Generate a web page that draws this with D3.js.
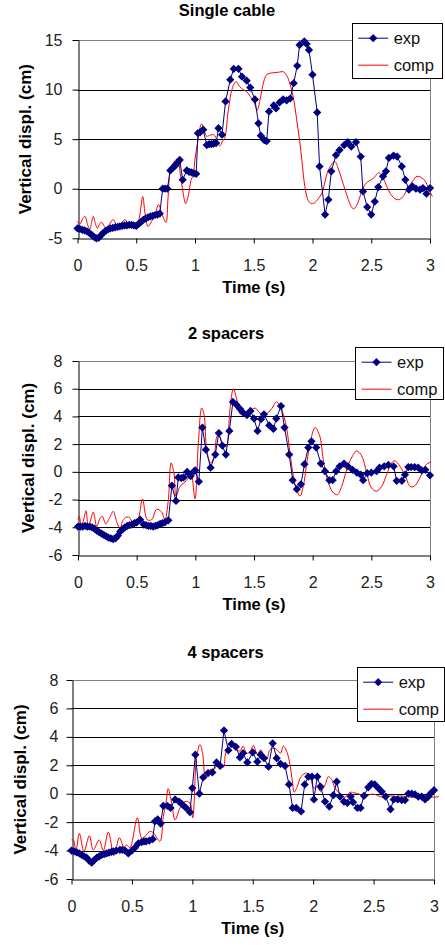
<!DOCTYPE html>
<html><head><meta charset="utf-8">
<script src="https://cdn.jsdelivr.net/npm/d3@7"></script>
<style>body{margin:0;background:#fff}svg{display:block}text{font-family:"Liberation Sans",Arial,sans-serif}</style>
</head><body><svg id="c" width="445" height="945"></svg>
<script>
const xTicks=[0,0.5,1,1.5,2,2.5,3];
const singleTicks=[-5,0,5,10,15];
const spacerTicks=[-6,-4,-2,0,2,4,6,8];
const titles=["Single cable","2 spacers","4 spacers"];
const legendLabels=["exp","comp"];
const xTitle="Time (s)";
const yTitle="Vertical displ. (cm)";

const singleExp=[[0,-4.0],[0.02,-4.05],[0.04,-4.15],[0.06,-4.2],[0.08,-4.3],[0.1,-4.45],[0.12,-4.65],[0.14,-4.85],[0.16,-5.0],[0.18,-4.95],[0.2,-4.7],[0.22,-4.45],[0.24,-4.25],[0.26,-4.1],[0.28,-4.0],[0.3,-3.95],[0.32,-3.9],[0.34,-3.85],[0.36,-3.8],[0.38,-3.75],[0.4,-3.7],[0.42,-3.7],[0.44,-3.65],[0.46,-3.65],[0.48,-3.7],[0.5,-3.75],[0.52,-3.55],[0.54,-3.35],[0.56,-3.15],[0.58,-3.0],[0.6,-2.9],[0.62,-2.8],[0.64,-2.75],[0.66,-2.65],[0.68,-2.6],[0.7,-2.5],[0.725,0],[0.745,0],[0.765,0],[0.79,1.85],[0.81,2.1],[0.83,2.3],[0.85,2.6],[0.87,2.9],[0.895,0.9],[0.93,1.85],[0.95,1.7],[0.97,1.65],[0.99,1.55],[1.01,1.5],[1.025,5.6],[1.045,5.7],[1.07,5.95],[1.1,4.4],[1.12,4.5],[1.14,4.5],[1.16,4.55],[1.18,4.6],[1.2,6.1],[1.23,5.45],[1.26,8.8],[1.3,11.0],[1.33,12.1],[1.37,12.1],[1.4,11.3],[1.44,10.9],[1.47,10.2],[1.51,9.0],[1.54,6.6],[1.56,5.35],[1.59,4.9],[1.61,4.8],[1.63,7.8],[1.67,8.4],[1.69,8.1],[1.72,8.7],[1.75,9.0],[1.78,8.9],[1.81,9.1],[1.84,10.65],[1.87,12.4],[1.89,14.5],[1.93,14.85],[1.95,14.6],[1.97,14.0],[2.0,11.5],[2.04,7.7],[2.06,2.25],[2.107,-2.6],[2.135,-1.1],[2.16,1.75],[2.2,3.4],[2.23,3.9],[2.27,4.4],[2.3,4.7],[2.33,4.25],[2.37,4.7],[2.41,3.25],[2.43,-0.27],[2.466,-1.85],[2.5,-2.6],[2.53,-1.3],[2.56,0.17],[2.6,1.25],[2.625,1.75],[2.65,3.1],[2.69,3.35],[2.72,3.25],[2.76,2.25],[2.79,0.9],[2.82,-0.1],[2.85,0.24],[2.88,0.0],[2.915,-0.1],[2.94,0.07],[2.97,-0.5],[3.0,0.07]];
const singleComp=[[0,-3.3],[0.02,-3.6],[0.045,-3.0],[0.065,-2.8],[0.085,-3.6],[0.105,-4.1],[0.12,-3.4],[0.135,-2.8],[0.152,-3.5],[0.17,-4.0],[0.19,-3.5],[0.206,-3.4],[0.228,-3.8],[0.248,-4.1],[0.275,-3.5],[0.305,-3.1],[0.327,-3.6],[0.348,-4.0],[0.375,-3.5],[0.404,-3.1],[0.425,-3.5],[0.447,-3.8],[0.475,-3.7],[0.5,-3.8],[0.525,-3.0],[0.555,-0.8],[0.575,-2.5],[0.6,-3.8],[0.63,-3.3],[0.66,-2.6],[0.69,-1.6],[0.72,-2.6],[0.753,-3.4],[0.77,-1.0],[0.79,1.9],[0.82,2.7],[0.85,3.0],[0.875,1.5],[0.9,-0.5],[0.92,-1.5],[0.945,-0.6],[0.965,0.8],[0.985,1.4],[1.0,3.0],[1.02,4.5],[1.04,6.0],[1.056,6.55],[1.08,5.8],[1.1,5.3],[1.13,5.4],[1.16,5.45],[1.19,4.8],[1.21,4.3],[1.235,4.8],[1.255,5.2],[1.28,7.6],[1.31,9.8],[1.33,10.5],[1.35,10.8],[1.38,10.3],[1.41,10.0],[1.44,9.8],[1.47,9.3],[1.5,8.8],[1.53,7.9],[1.55,8.8],[1.57,10.0],[1.59,11.0],[1.61,11.5],[1.64,11.65],[1.67,11.7],[1.71,11.75],[1.75,11.8],[1.77,11.6],[1.79,11.2],[1.815,10.3],[1.84,9.0],[1.865,7.0],[1.89,4.9],[1.91,2.8],[1.935,0.2],[1.96,-1.1],[1.98,-1.45],[2.0,-1.5],[2.02,-1.4],[2.05,-1.0],[2.08,-0.45],[2.1,0.4],[2.126,1.6],[2.16,2.4],[2.19,2.75],[2.22,2.0],[2.25,0.9],[2.28,-0.2],[2.305,-1.1],[2.33,-1.8],[2.35,-2.05],[2.375,-1.7],[2.4,-0.95],[2.42,-0.2],[2.445,0.4],[2.47,0.7],[2.5,0.9],[2.53,1.2],[2.56,1.6],[2.58,1.5],[2.6,1.1],[2.63,0.3],[2.66,-0.45],[2.69,-0.9],[2.72,-1.1],[2.745,-1.05],[2.77,-0.8],[2.8,-0.2],[2.83,0.4],[2.86,0.9],[2.88,1.2],[2.9,1.25],[2.93,1.1],[2.96,0.75],[2.99,0.0],[3.02,-0.8]];

const twoExp=[[0,-3.95],[0.02,-3.95],[0.04,-3.95],[0.06,-3.9],[0.08,-3.95],[0.1,-3.95],[0.12,-4.0],[0.14,-4.1],[0.16,-4.25],[0.18,-4.35],[0.2,-4.45],[0.22,-4.55],[0.24,-4.65],[0.26,-4.75],[0.28,-4.8],[0.3,-4.85],[0.32,-4.8],[0.34,-4.6],[0.36,-4.3],[0.38,-4.15],[0.4,-4.0],[0.42,-3.9],[0.44,-3.85],[0.46,-3.8],[0.48,-3.7],[0.5,-3.65],[0.53,-3.45],[0.56,-3.8],[0.58,-3.85],[0.6,-3.9],[0.62,-3.9],[0.64,-3.95],[0.66,-3.9],[0.68,-3.85],[0.7,-3.75],[0.72,-3.7],[0.74,-3.65],[0.77,-3.5],[0.8,-1.0],[0.835,-2.1],[0.855,-0.4],[0.88,-0.45],[0.9,-0.4],[0.93,0.0],[0.96,-0.3],[0.99,0.05],[1.0,0.1],[1.03,-0.7],[1.06,3.2],[1.09,1.6],[1.13,0.3],[1.17,1.25],[1.2,2.8],[1.23,1.9],[1.26,1.25],[1.29,2.95],[1.32,5.05],[1.35,4.85],[1.38,4.55],[1.41,4.25],[1.44,4.1],[1.47,4.4],[1.5,3.85],[1.53,2.95],[1.56,3.8],[1.585,4.15],[1.63,3.35],[1.665,3.1],[1.69,3.85],[1.73,4.75],[1.76,3.2],[1.8,1.25],[1.83,-0.6],[1.865,-1.25],[1.9,-0.9],[1.93,0.55],[1.963,1.75],[1.99,2.2],[2.03,1.75],[2.07,0.6],[2.105,0.05],[2.142,-0.6],[2.17,-0.6],[2.2,0.05],[2.23,0.4],[2.267,0.6],[2.3,0.4],[2.34,0.15],[2.376,-0.05],[2.41,-0.2],[2.43,-0.6],[2.465,-0.1],[2.5,-0.05],[2.545,0.05],[2.57,0.3],[2.61,0.4],[2.645,0.5],[2.69,0.4],[2.716,-0.65],[2.76,-0.65],[2.787,-0.2],[2.815,0.35],[2.84,0.35],[2.87,0.35],[2.9,0.3],[2.93,0.1],[2.96,0.15],[3.0,-0.25]];
const twoComp=[[0,-3.45],[0.011,-3.2],[0.03,-3.95],[0.05,-3.4],[0.068,-2.8],[0.088,-3.95],[0.11,-3.4],[0.13,-2.9],[0.16,-3.95],[0.185,-3.4],[0.207,-3.2],[0.236,-3.75],[0.27,-3.3],[0.3,-2.85],[0.33,-3.6],[0.358,-4.1],[0.386,-3.45],[0.43,-3.25],[0.486,-3.9],[0.52,-3.2],[0.55,-1.95],[0.59,-3.45],[0.628,-3.45],[0.67,-2.7],[0.713,-2.9],[0.741,-3.45],[0.77,-2.0],[0.793,0.65],[0.818,-0.1],[0.835,-1.75],[0.87,-1.05],[0.903,-0.8],[0.94,-0.45],[0.963,0.05],[0.997,-1.95],[1.026,2.1],[1.054,4.6],[1.074,4.15],[1.097,1.6],[1.13,0.65],[1.16,1.1],[1.187,2.6],[1.21,2.5],[1.24,1.85],[1.267,1.85],[1.28,2.6],[1.295,4.5],[1.324,6.0],[1.352,5.25],[1.38,4.2],[1.42,4.3],[1.466,4.4],[1.51,4.6],[1.55,4.25],[1.59,4.15],[1.636,4.4],[1.665,4.75],[1.69,5.05],[1.72,4.8],[1.75,4.15],[1.78,3.05],[1.807,1.35],[1.835,-0.3],[1.864,-1.3],[1.892,-1.75],[1.92,-1.05],[1.95,0.65],[1.985,2.35],[2.02,3.2],[2.06,2.6],[2.09,0.9],[2.125,-0.55],[2.17,-1.45],[2.21,-1.65],[2.247,-1.05],[2.29,0.15],[2.33,1.0],[2.375,1.5],[2.418,1.15],[2.46,-0.05],[2.5,-1.15],[2.545,-1.4],[2.588,-1.05],[2.63,-0.2],[2.673,0.65],[2.7,0.8],[2.744,0.4],[2.79,-0.3],[2.83,-1.05],[2.864,-1.05],[2.9,-0.65],[2.94,0.05],[2.97,0.55],[3.01,0.7]];

const fourExp=[[0,-4.0],[0.02,-4.05],[0.043,-4.13],[0.065,-4.2],[0.084,-4.3],[0.105,-4.4],[0.125,-4.5],[0.145,-4.7],[0.167,-4.85],[0.19,-4.65],[0.21,-4.5],[0.23,-4.4],[0.25,-4.3],[0.27,-4.25],[0.29,-4.2],[0.31,-4.15],[0.33,-4.1],[0.346,-4.05],[0.37,-4.0],[0.4,-3.95],[0.42,-3.95],[0.443,-4.0],[0.47,-4.2],[0.5,-4.0],[0.525,-3.8],[0.553,-3.5],[0.58,-3.4],[0.6,-3.35],[0.617,-3.35],[0.644,-3.3],[0.672,-3.2],[0.69,-1.95],[0.713,-1.8],[0.737,-2.1],[0.76,-0.85],[0.793,-0.85],[0.82,-1.0],[0.857,-0.4],[0.89,-0.55],[0.917,-0.75],[0.948,-1.0],[0.98,-1.3],[1.0,0.4],[1.025,2.75],[1.058,0.0],[1.09,1.15],[1.13,1.45],[1.166,1.5],[1.2,2.2],[1.23,1.95],[1.262,4.45],[1.298,3.05],[1.325,3.5],[1.36,3.3],[1.394,2.55],[1.42,2.85],[1.455,2.2],[1.5,2.9],[1.538,2.25],[1.565,2.75],[1.593,2.5],[1.63,1.9],[1.665,3.55],[1.698,2.5],[1.73,2.1],[1.767,1.95],[1.8,0.65],[1.83,-1.0],[1.86,-1.0],[1.9,-1.25],[1.93,0.65],[1.96,1.2],[1.99,1.2],[2.006,-0.4],[2.034,1.2],[2.06,0.5],[2.098,-0.55],[2.134,-0.9],[2.167,-0.1],[2.195,0.85],[2.222,-0.2],[2.255,-0.55],[2.283,-0.65],[2.31,-0.2],[2.33,-0.6],[2.366,-1.0],[2.392,-1.0],[2.42,-0.15],[2.456,0.45],[2.483,0.7],[2.51,0.65],[2.539,0.4],[2.567,0.15],[2.6,-0.2],[2.64,-1.1],[2.667,-0.4],[2.7,-0.4],[2.733,-0.45],[2.76,-0.45],[2.788,0.0],[2.816,0.0],[2.843,-0.05],[2.87,-0.2],[2.898,-0.2],[2.926,-0.4],[2.953,-0.2],[2.97,0.0],[3.0,0.25]];
const fourComp=[[0,-3.25],[0.015,-3.25],[0.037,-4.0],[0.065,-2.8],[0.103,-4.05],[0.148,-2.95],[0.18,-3.95],[0.23,-3.25],[0.263,-4.0],[0.305,-2.7],[0.352,-4.35],[0.396,-3.1],[0.434,-3.75],[0.457,-3.6],[0.484,-3.8],[0.545,-1.7],[0.58,-3.1],[0.608,-3.0],[0.65,-2.65],[0.677,-2.75],[0.732,-3.35],[0.76,-1.6],[0.782,-0.65],[0.8,0.35],[0.829,-0.65],[0.857,-1.85],[0.898,-1.0],[0.94,-0.55],[0.98,-0.65],[1.003,-1.7],[1.036,2.6],[1.063,3.45],[1.085,2.85],[1.11,1.05],[1.146,1.7],[1.18,1.7],[1.2,1.95],[1.229,1.95],[1.256,1.85],[1.276,2.85],[1.312,3.6],[1.353,3.2],[1.394,3.0],[1.42,3.35],[1.45,2.85],[1.477,2.95],[1.505,3.4],[1.538,2.75],[1.565,3.1],[1.59,2.75],[1.615,2.4],[1.642,3.1],[1.67,3.2],[1.7,3.1],[1.73,2.85],[1.753,3.35],[1.78,3.0],[1.808,2.05],[1.83,0.75],[1.843,0.1],[1.868,0.5],[1.9,1.2],[1.946,1.45],[1.98,1.0],[2.006,0.4],[2.034,0.5],[2.06,0.15],[2.1,0.65],[2.125,1.2],[2.153,1.0],[2.18,0.4],[2.22,0.0],[2.263,-0.25],[2.305,0.1],[2.346,0.05],[2.388,-0.05],[2.43,-0.25],[2.47,-0.05],[2.512,-0.05],[2.553,-0.2],[2.595,-0.3],[2.636,-0.15],[2.677,-0.2],[2.72,-0.15],[2.774,-0.2],[2.83,-0.25],[2.884,-0.3],[2.94,-0.2],[2.995,-0.25],[3.04,-0.2]];

const layout=[
 {title:titles[0],exp:singleExp,comp:singleComp,yTicks:singleTicks,x0:77.5,x1:430,yT:40,yB:238.3,titleY:10,titleX:227,ylabX:25,leg:[351.7,22.7,90,54.6]},
 {title:titles[1],exp:twoExp,comp:twoComp,yTicks:spacerTicks,x0:78,x1:430,yT:361,yB:555,titleY:333,titleX:226,ylabX:28,leg:[355,346.7,88.3,52.3]},
 {title:titles[2],exp:fourExp,comp:fourComp,yTicks:spacerTicks,x0:71.5,x1:434,yT:680,yB:879,titleY:651.7,titleX:225.5,ylabX:20,leg:[356.7,666.7,87.3,54]}
];
const svg=d3.select("#c");
const NAVY="#000080",RED="#ff0000";
const diamond=d3.symbol(d3.symbolSquare,34);
const plain=d=>String(d);

layout.forEach(p=>{
  const g=svg.append("g");
  const yd=d3.extent(p.yTicks);
  const x=d3.scaleLinear().domain([0,3]).range([p.x0,p.x1]);
  const y=d3.scaleLinear().domain(yd).range([p.yB,p.yT]);
  g.append("g").selectAll("line").data(p.yTicks.filter(v=>v>yd[0])).join("line")
    .attr("x1",p.x0).attr("x2",p.x1).attr("y1",d=>Math.round(y(d))+0.5).attr("y2",d=>Math.round(y(d))+0.5)
    .attr("stroke",d=>d===yd[1]?"#808080":"#000").attr("stroke-width",1);
  g.append("line").attr("x1",Math.round(p.x1)+0.5).attr("x2",Math.round(p.x1)+0.5).attr("y1",p.yT).attr("y2",p.yB).attr("stroke","#808080");
  const ax=g.append("g").attr("transform",`translate(0,${Math.round(p.yB)+0.5})`)
    .call(d3.axisBottom(x).tickValues(xTicks).tickFormat(plain).tickSizeInner(5).tickSizeOuter(0).tickPadding(16));
  const ay=g.append("g").attr("transform",`translate(${Math.round(p.x0)+0.5},0)`)
    .call(d3.axisLeft(y).tickValues(p.yTicks).tickFormat(plain).tickSizeInner(6).tickSizeOuter(0).tickPadding(p.x0<75?8:10));
  [ax,ay].forEach(a=>{
    a.selectAll("path,line").attr("stroke","#000");
    a.selectAll("text").attr("font-size",16).attr("fill","#222").attr("font-family",'"Liberation Sans",Arial,sans-serif');
  });
  g.append("path").datum(p.comp).attr("fill","none").attr("stroke",RED).attr("stroke-width",1)
    .attr("d",d3.line().x(d=>x(d[0])).y(d=>y(d[1])).curve(d3.curveCatmullRom.alpha(0.5)));
  g.append("path").datum(p.exp).attr("fill","none").attr("stroke",NAVY).attr("stroke-width",1)
    .attr("d",d3.line().x(d=>x(d[0])).y(d=>y(d[1])));
  g.append("g").selectAll("path").data(p.exp).join("path").attr("d",diamond)
    .attr("transform",d=>`translate(${x(d[0])},${y(d[1])}) rotate(45)`).attr("fill",NAVY);
  g.append("text").attr("x",p.titleX).attr("y",p.titleY).attr("dy","0.36em").attr("text-anchor","middle")
    .attr("font-size",16.5).attr("font-weight","bold").text(p.title);
  g.append("text").attr("x",(p.x0+p.x1)/2).attr("y",p.yB+49).attr("dy","0.36em").attr("text-anchor","middle")
    .attr("font-size",16.5).attr("font-weight","bold").text(xTitle);
  g.append("text").attr("transform",`translate(${p.ylabX},${(p.yT+p.yB)/2}) rotate(-90)`).attr("dy","0.36em").attr("text-anchor","middle")
    .attr("font-size",17).attr("font-weight","bold").text(yTitle);
  const [lx,ly,lw,lh]=p.leg;
  const lg=g.append("g");
  lg.append("rect").attr("x",Math.round(lx)+0.5).attr("y",Math.round(ly)+0.5).attr("width",Math.round(lw)).attr("height",Math.round(lh))
    .attr("fill","#fff").attr("stroke","#000");
  const items=[{c:NAVY,m:true},{c:RED,m:false}];
  items.forEach((it,i)=>{
    const cy=ly+15.5+i*27;
    lg.append("line").attr("x1",lx+6.5).attr("x2",lx+36.5).attr("y1",cy).attr("y2",cy).attr("stroke",it.c);
    if(it.m) lg.append("path").attr("d",diamond).attr("transform",`translate(${lx+21.5},${cy}) rotate(45)`).attr("fill",NAVY);
    lg.append("text").attr("x",lx+42).attr("y",cy).attr("dy","0.36em").attr("font-size",16.5).attr("fill","#111").text(legendLabels[i]);
  });
});
</script></body></html>
